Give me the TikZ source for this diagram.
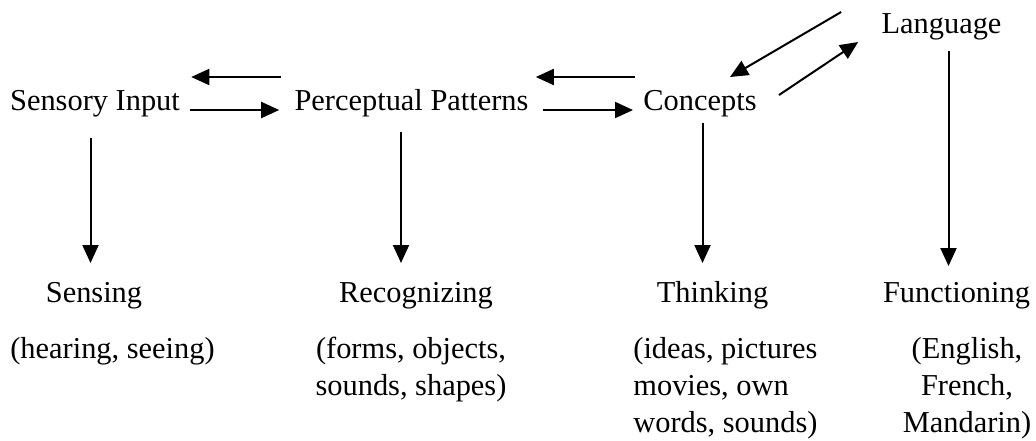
\documentclass[tikz,border=0pt]{standalone}
\usepackage{fontspec}
\setmainfont{Liberation Serif}
\usetikzlibrary{arrows.meta}

\begin{document}
\begin{tikzpicture}[x=0.5pt, y=-0.5pt,
  lbl/.style={font=\fontsize{15.2}{18.5}\selectfont, inner sep=0pt, anchor=base},
  arr/.style={line width=1pt, -{Triangle[length=9pt, width=8pt]}}]
\useasboundingbox (0,0) rectangle (1036,440);

% ---- Top row: the stages ----
\node[lbl] (sens) at (95, 110) {Sensory Input};
\node[lbl] (percept) at (411.5, 110) {Perceptual Patterns};
\node[lbl] (concepts) at (700, 110) {Concepts};
\node[lbl] (lang) at (941.5, 33) {Language};

% ---- Bottom row: the activities ----
\node[lbl] (sensing) at (94, 302) {Sensing};
\node[lbl] (recog) at (416, 302) {Recognizing};
\node[lbl] (think) at (712.5, 302) {Thinking};
\node[lbl] (func) at (956.5, 302) {Functioning};

% Examples under each activity (base = last line)
\node[lbl] (sensex) at (112.5, 358) {(hearing, seeing)};
\node[lbl, align=center] (recogex) at (411, 395) {(forms, objects,\\ sounds, shapes)};
\node[lbl, align=left, anchor=base west] (thinkex) at (633, 432) {(ideas, pictures\\ movies, own\\ words, sounds)};
\node[lbl, align=center] (funcex) at (967, 432) {(English,\\ French,\\ Mandarin)};

% Back and forth between the stages
\draw[arr] ([xshift=-6.5pt, yshift=16.5pt]percept.base west) -- ([xshift=5.5pt, yshift=16.5pt]sens.base east);
\draw[arr] ([xshift=5pt]sens.base east) -- ([xshift=-7.5pt]percept.base west);
\draw[arr] ([xshift=-4pt, yshift=16.5pt]concepts.base west) -- ([xshift=3.5pt, yshift=16.5pt]percept.base east);
\draw[arr] ([xshift=7pt]percept.base east) -- ([xshift=-5pt]concepts.base west);
\draw[arr] ([xshift=-20pt, yshift=10.5pt]lang.base west) -- ([xshift=15pt, yshift=16.5pt]concepts.base);
\draw[arr] ([xshift=11pt, yshift=7.5pt]concepts.base east) -- ([xshift=-11.5pt, yshift=-4.5pt]lang.base west);

% Down to the activities
\draw[arr] ([xshift=-2.25pt, yshift=-14pt]sens.base) -- ([xshift=-2.25pt, yshift=19.5pt]sens.base |- sensing.base);
\draw[arr] ([xshift=-5.25pt, yshift=-11pt]percept.base) -- ([xshift=-5.25pt, yshift=19.5pt]percept.base |- recog.base);
\draw[arr] ([xshift=1.25pt, yshift=-6.5pt]concepts.base) -- ([xshift=1.25pt, yshift=19.5pt]concepts.base |- think.base);
\draw[arr] ([xshift=3.5pt, yshift=-9pt]lang.base) -- ([xshift=3.5pt, yshift=18pt]lang.base |- func.base);

\end{tikzpicture}
\end{document}
